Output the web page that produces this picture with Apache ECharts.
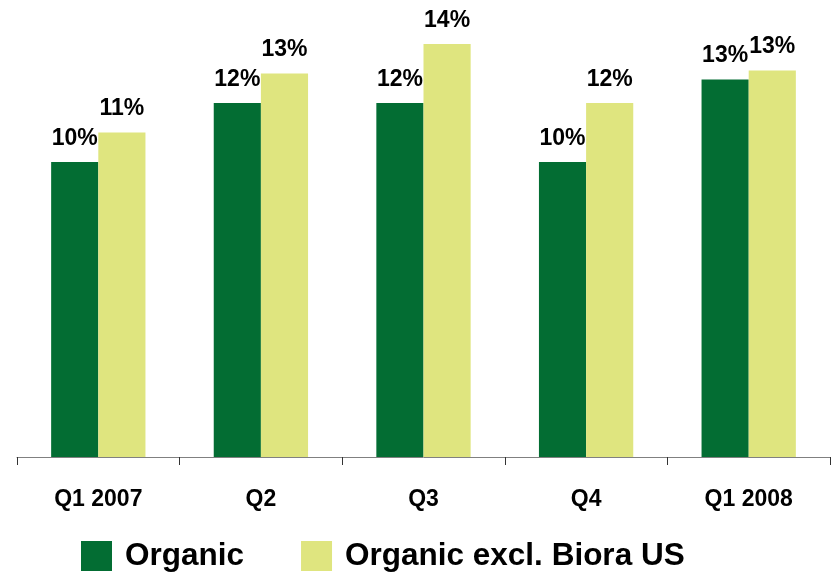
<!DOCTYPE html>
<html>
<head>
<meta charset="utf-8">
<script src="https://cdn.jsdelivr.net/npm/echarts@6/dist/echarts.min.js"></script>
<style>
  html, body { margin: 0; padding: 0; background: #fff; }
  #chart { width: 831px; height: 577px; }
</style>
</head>
<body>
<div id="chart"></div>
<script>
// quarters and growth rates (%)
const quarters = ['Q1 2007', 'Q2', 'Q3', 'Q4', 'Q1 2008'];
const organic = [10, 12, 12, 10, 12.8];
const organicExclBiora = [11, 13, 14, 12, 13.1];
const seriesNames = ['Organic', 'Organic excl. Biora US'];

const darkGreen = '#036D33';
const lightGreen = '#DFE57F';
const font = 'Liberation Sans, Arial, sans-serif';

const chart = echarts.init(document.getElementById('chart'));

const labelStyle = {
  show: true,
  position: 'top',
  distance: 12,
  color: '#000',
  fontFamily: font,
  fontWeight: 'bold',
  fontSize: 23,
  formatter: p => Math.round(p.value) + '%'
};

chart.setOption({
  animation: false,
  grid: { left: 17, right: 1, top: 14.5, bottom: 120 },
  legend: {
    left: 76,
    top: 535,
    itemWidth: 31,
    itemHeight: 30,
    itemGap: 57,
    icon: 'rect',
    data: seriesNames,
    textStyle: {
      color: '#000',
      fontFamily: font,
      fontWeight: 'bold',
      fontSize: 31.5,
      padding: [0, 0, 0, 8]
    }
  },
  xAxis: {
    type: 'category',
    data: quarters,
    axisLine: { lineStyle: { color: '#808080', width: 1 } },
    axisTick: { show: true, length: 8, lineStyle: { color: '#333' } },
    axisLabel: {
      margin: 31,
      color: '#000',
      fontFamily: font,
      fontWeight: 'bold',
      fontSize: 23
    }
  },
  yAxis: {
    type: 'value',
    min: 0,
    max: 15,
    show: false,
    splitLine: { show: false }
  },
  series: [
    {
      name: seriesNames[0],
      type: 'bar',
      data: organic,
      barGap: '0%',
      barCategoryGap: '42%',
      itemStyle: { color: darkGreen },
      label: labelStyle
    },
    {
      name: seriesNames[1],
      type: 'bar',
      data: organicExclBiora,
      itemStyle: { color: lightGreen },
      label: labelStyle
    }
  ]
});
</script>
</body>
</html>
